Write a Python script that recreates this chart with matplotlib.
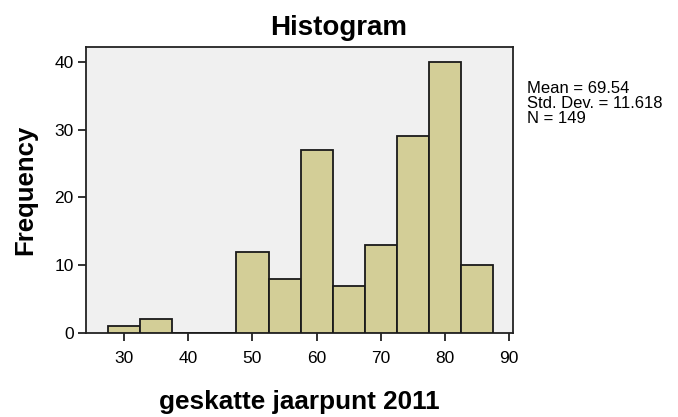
import matplotlib
matplotlib.use("Agg")
import matplotlib.pyplot as plt
import numpy as np

plt.rcParams['font.family'] = ['Liberation Sans', 'DejaVu Sans']

bin_edges = [27.5, 32.5, 37.5, 42.5, 47.5, 52.5, 57.5, 62.5, 67.5, 72.5, 77.5, 82.5, 87.5]
counts = [1, 2, 0, 0, 12, 8, 27, 7, 13, 29, 40, 10]
x_ticks = [30, 40, 50, 60, 70, 80, 90]
y_ticks = [0, 10, 20, 30, 40]
stats_text = "Mean = 69.54\nStd. Dev. = 11.618\nN = 149"

fig = plt.figure(figsize=(6.78, 4.17), dpi=100)
ax = fig.add_axes([86/678, 1-333/417, (513-86)/678, (333-47)/417])
ax.set_facecolor("#F0F0F0")
edges = np.array(bin_edges)
ax.bar(edges[:-1], counts, width=np.diff(edges), align="edge",
       color="#D3CE97", edgecolor="#1a1a1a", linewidth=1.3, zorder=3)
ax.set_xlim(24.06, 90.6)
ax.set_ylim(0, 42.2)
ax.set_xticks(x_ticks)
ax.set_yticks(y_ticks)
ax.tick_params(direction="out", length=6, width=1.3, labelsize=12.5, color="#222222", pad=3)
ax.tick_params(axis="x", pad=7)
for s in ax.spines.values():
    s.set_color("#222222")
    s.set_linewidth(1.3)
fig.text(0.5, 1-35/417, "Histogram", fontsize=20, fontweight="bold", ha="center", va="baseline")
ax.set_xlabel("geskatte jaarpunt 2011", fontsize=18.8, fontweight="bold", labelpad=17)
ax.set_ylabel("Frequency", fontsize=18.5, fontweight="bold", labelpad=12)
fig.text(527/678, 1-81/417, stats_text, fontsize=12, va="top", ha="left", linespacing=1.0)
fig.savefig("out.png", dpi=100)
